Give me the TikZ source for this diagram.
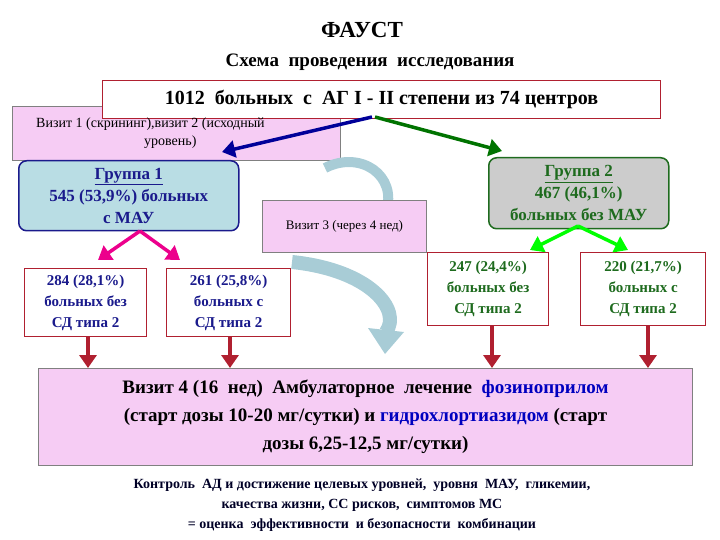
\documentclass[tikz,border=0pt]{standalone}
\usepackage{fontspec}
\setmainfont{Liberation Serif}
\usetikzlibrary{arrows.meta}
\definecolor{pinkf}{HTML}{F6CCF4}
\definecolor{bluef}{HTML}{B9DDE4}
\definecolor{dred}{HTML}{B02030}
\definecolor{gblue}{HTML}{1A1A8C}
\definecolor{gtext}{HTML}{1E6B1E}
\definecolor{curv}{HTML}{A8CCD6}
\tikzset{
 pinkbox/.style={draw=gray, fill=pinkf, line width=1pt},
 subbox/.style={draw=dred, fill=white, line width=1.2pt, align=center, font=\bfseries\fontsize{15}{21}\selectfont, minimum height=68pt},
 arr/.style={line width=3.5pt, -{Triangle[length=13pt,width=17pt]}},
}
\begin{document}
\begin{tikzpicture}[x=1pt,y=-1pt]
\useasboundingbox (0,0) rectangle (720,540);
\node[font=\bfseries\fontsize{23}{26}\selectfont] (title) at (362,30) {ФАУСТ};
\node[font=\bfseries\fontsize{19}{22}\selectfont] (sub) at (370,62) {Схема \ проведения \ исследования};
\node[pinkbox, minimum width=328pt, minimum height=54pt, anchor=north west] (v1) at (12,106) {};
\node[draw=dred, fill=white, line width=1pt, minimum width=558pt, minimum height=38pt, anchor=north west, font=\bfseries\fontsize{20}{22}\selectfont] (main) at (102,80) {1012 \ больных \ с \ АГ I - II степени из 74 центров};
\node[anchor=north west, align=left, font=\fontsize{14}{18}\selectfont, inner sep=0pt] (v1t) at (36,118) {Визит 1 (скрининг),визит 2 (исходный\\\hspace*{108pt}уровень)};
% curved arrows
\draw[curv, line width=10pt] (325,168) .. controls (360,150) and (398,175) .. (386,212);
\fill[curv] (371,208) -- (400,210) -- (384,232) -- cycle;
\draw[curv, line width=14pt] (292,262) .. controls (370,270) and (402,310) .. (386,332);
\fill[curv] (368,328) -- (404,332) -- (385,354) -- cycle;
\node[pinkbox, minimum width=164pt, minimum height=52pt, anchor=north west, font=\fontsize{13}{16}\selectfont] (v3) at (262,200) {Визит 3 (через 4 нед)};
\node[draw=gblue, fill=bluef, rounded corners=8pt, line width=1.5pt, minimum width=220pt, minimum height=70pt, anchor=north west, align=center, text=gblue, font=\bfseries\fontsize{17}{22}\selectfont, inner sep=1pt] (g1) at (18,160) {\underline{Группа 1}\\545 (53,9\%) больных\\с МАУ};
\node[draw=gtext, fill=gray!40, rounded corners=8pt, line width=1.5pt, minimum width=180pt, minimum height=71pt, anchor=north west, align=center, text=gtext, font=\bfseries\fontsize{17}{22}\selectfont, inner sep=1pt] (g2) at (488,157) {\underline{Группа 2}\\467 (46,1\%)\\больных без МАУ};
\node[subbox, text=gblue, minimum width=122pt, anchor=north west] (s1) at (24,268) {284 (28,1\%)\\больных без\\СД типа 2};
\node[subbox, text=gblue, minimum width=124pt, anchor=north west] (s2) at (166,268) {261 (25,8\%)\\больных с\\СД типа 2};
\node[subbox, text=gtext, minimum width=121pt, minimum height=73pt, anchor=north west] (s3) at (427,252) {247 (24,4\%)\\больных без\\СД типа 2};
\node[subbox, text=gtext, minimum width=125pt, minimum height=73pt, anchor=north west] (s4) at (580,252) {220 (21,7\%)\\больных с\\СД типа 2};
\node[pinkbox, minimum width=654pt, minimum height=97pt, anchor=north west, align=center, font=\bfseries\fontsize{19}{28}\selectfont] (v4) at (38,368) {Визит 4 (16 \ нед) \ Амбулаторное \ лечение \ \textcolor{blue!75!black}{фозиноприлом}\\(старт дозы 10-20 мг/сутки) и \textcolor{blue!75!black}{гидрохлортиазидом} (старт\\дозы 6,25-12,5 мг/сутки)};
\node[align=center, font=\bfseries\fontsize{14}{20}\selectfont, text=black!85!blue] (ctl) at (362,505) {Контроль \ АД и достижение целевых уровней, \ уровня \ МАУ, \ гликемии,\\качества жизни, СС рисков, \ симптомов МС\\= оценка \ эффективности \ и безопасности \ комбинации};
% arrows
\coordinate (m0) at (372,117);
\coordinate (b1) at (222,152);
\coordinate (m1) at (375,117);
\coordinate (b2) at (502,151);
\draw[arr, blue!60!black] (m0) -- (b1);
\draw[arr, green!45!black] (m1) -- (b2);
\coordinate (g1b) at (140,231);
\draw[arr, magenta] (g1b) -- (98,260);
\draw[arr, magenta] (g1b) -- (180,260);
\coordinate (g2b) at (578,226);
\draw[arr, green] (g2b) -- (530,250);
\draw[arr, green] (g2b) -- (628,250);
\foreach \s/\x in {s1/88,s2/230,s3/492,s4/648}
  \draw[arr, dred] (\s.south -| \x,0) -- (\x,368);
\end{tikzpicture}
\end{document}
